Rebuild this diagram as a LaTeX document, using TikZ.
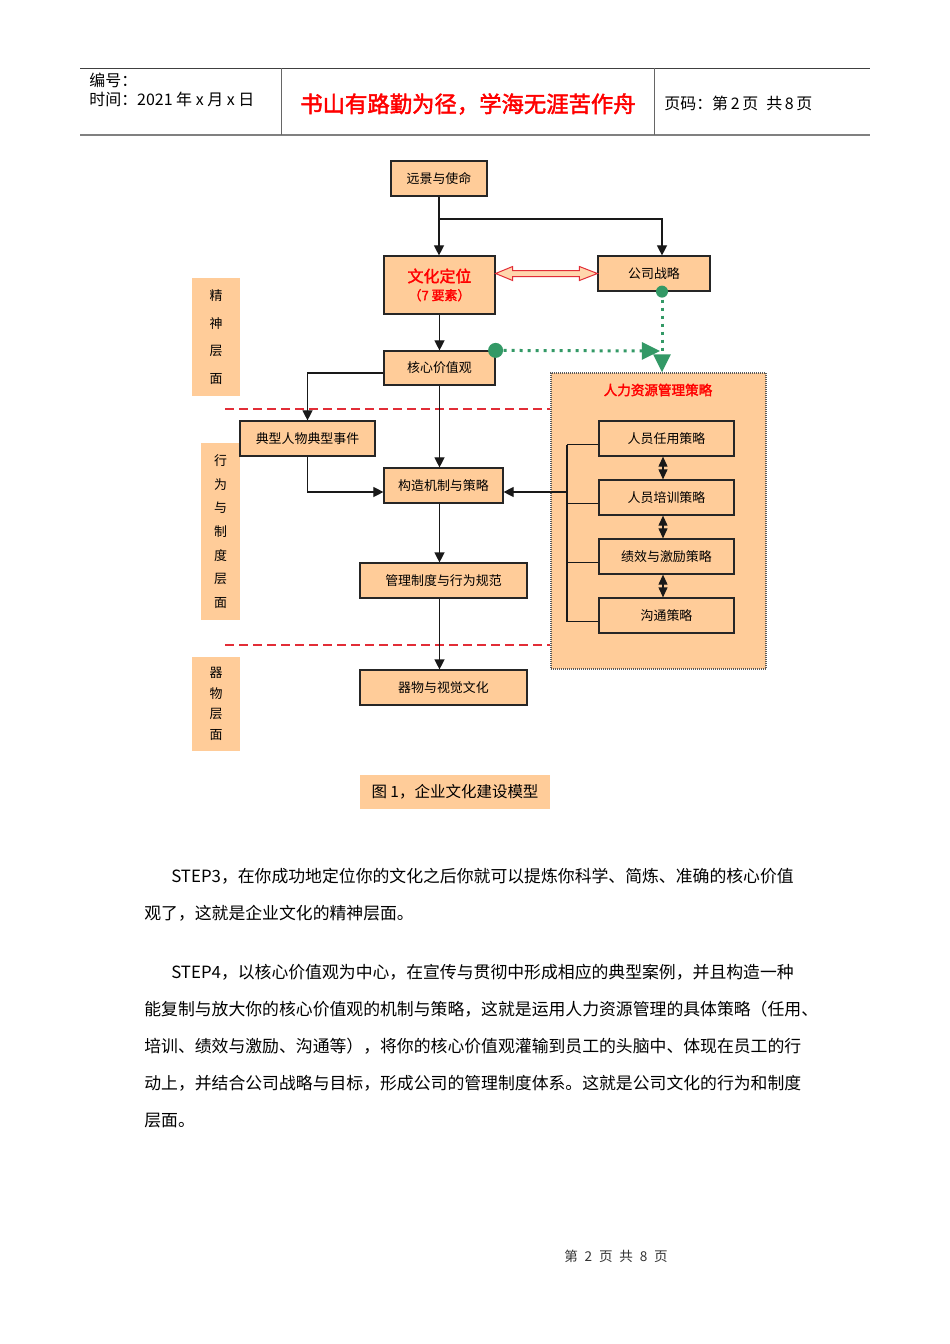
\documentclass[tikz,border=0pt]{standalone}
\usepackage{fontspec}
\setmainfont{Noto Sans CJK SC}[AutoFakeBold=2]
\usetikzlibrary{positioning,calc,arrows.meta}
\newlength\pxu \setlength\pxu{0.6263pt}
\definecolor{peach}{RGB}{255,204,153}
\definecolor{sgreen}{RGB}{51,153,102}
\definecolor{dred}{RGB}{226,45,55}
\tikzset{
  box/.style={draw=black!85, line width=1.2\pxu, fill=peach, inner sep=0pt, font=\fontsize{8.1}{10}\selectfont},
  sz/.style 2 args={minimum width=#1\pxu, minimum height=#2\pxu},
  side/.style={fill=peach, inner sep=0pt, align=center},
  ln/.style={line width=1.3\pxu, black!90},
  arr/.style={ln, -{Triangle[length=6.3pt,width=6.3pt]}},
  darr/.style={ln, {Triangle[length=6.3pt,width=5.6pt]}-{Triangle[length=6.3pt,width=5.6pt]}},
  gdot/.style={sgreen, line width=3\pxu, dash pattern=on 3\pxu off 5\pxu, -{Triangle[length=11.3pt,width=10.6pt]}},
  rdash/.style={dred, line width=1.1\pxu, dash pattern=on 9\pxu off 5\pxu},
  body/.style={anchor=west, inner sep=0pt, font=\fontsize{10.55}{13}\selectfont}
}
\begin{document}
\begin{tikzpicture}[x=1\pxu, y=-1\pxu]
\fill[white] (0,0) rectangle (950,1344);
\useasboundingbox (0,0) rectangle (950,1344);
\draw[line width=1\pxu, black!75] (80,68) -- (870,68);
\draw[line width=2\pxu, black!50] (80,135) -- (870,135);
\draw[line width=1\pxu, black!60] (281,68) -- (281,135) (654,68) -- (654,135);
\node[anchor=west, inner sep=0pt, font=\fontsize{10}{11}\selectfont] (h1) at (89,80) {编号：};
\node[anchor=west, inner sep=0pt, font=\fontsize{10}{11}\selectfont] (h2) at (89,99) {时间：2021 年 x 月 x 日};
\node[inner sep=0pt, text=red, font=\fontsize{14}{16}\selectfont\bfseries] (h3) at (468,104) {书山有路勤为径，学海无涯苦作舟};
\node[anchor=west, inner sep=0pt, font=\fontsize{10}{11}\selectfont] (h4) at (664,103) {页码：第\,2\,页\enspace 共\,8\,页};

\node[side, sz={48}{118}, font=\fontsize{8.1}{17.2}\selectfont] (l1) at (216,337) {精\\神\\层\\面};
\node[side, sz={39}{177}, font=\fontsize{8.1}{14.8}\selectfont] (l2) at (220.5,531.5) {行\\为\\与\\制\\度\\层\\面};
\node[side, sz={48}{94}, font=\fontsize{8.1}{12.8}\selectfont] (l3) at (216,704) {器\\物\\层\\面};

\node[box, sz={215}{296}, draw=black!65, dash pattern=on 1\pxu off 1\pxu] (hr) at (658.5,521) {};
\node[inner sep=0pt, text=red, font=\fontsize{8.5}{10}\selectfont\bfseries] (hrt) at (658,390) {人力资源管理策略};
\node[box, sz={135}{35}] (r1) at (666.5,438.5) {人员任用策略};
\node[box, sz={135}{35}] (r2) at (666.5,497.5) {人员培训策略};
\node[box, sz={135}{35}] (r3) at (666.5,556.5) {绩效与激励策略};
\node[box, sz={135}{35}] (r4) at (666.5,615.5) {沟通策略};

\node[box, sz={96}{35}] (yj) at (439,178.5) {远景与使命};
\node[box, sz={111}{58}, align=center, text=red] (wh) at (439.5,285) {{\fontsize{10}{12}\selectfont\bfseries 文化定位}\\[2\pxu]{\bfseries （7 要素）}};
\node[box, sz={112}{35}] (zl) at (654,273.5) {公司战略};
\node[box, sz={111}{34}] (hx) at (439.5,368) {核心价值观};
\node[box, sz={135}{35}] (dx) at (307.5,438.5) {典型人物典型事件};
\node[box, sz={119}{35}] (gz) at (443.5,485.5) {构造机制与策略};
\node[box, sz={167}{35}] (gl) at (443.5,580.5) {管理制度与行为规范};
\node[box, sz={167}{35}] (qw) at (443.5,687.5) {器物与视觉文化};
\node[side, sz={190}{34}, font=\fontsize{9.7}{11}\selectfont] (cap) at (455,792) {图 1，企业文化建设模型};

\coordinate (j1) at (439,219); \coordinate (br) at (567,492); \coordinate (g1) at (660,351);
\coordinate (d1) at (225,409); \coordinate (d2) at (225,645);
\draw[rdash] (d1) -- (d1 -| hr.west); \draw[rdash] (d2) -- (d2 -| hr.west);
\draw[arr] (yj.south) -- (yj.south |- wh.north);
\draw[arr] (j1) -| ([xshift=8\pxu]zl.north);
\draw[arr] (wh) -- (hx);
\draw[arr] ([yshift=-5\pxu]hx.west) -| (dx);
\draw[arr] (hx.south) -- (hx.south |- gz.north);
\draw[arr] (dx.south) |- ([yshift=-6.5\pxu]gz.west);
\draw[arr] (br) -- (br -| gz.east);
\draw[arr] (gz.south -| hx.south) -- (hx.south |- gl.north);
\draw[arr] (gl.south -| hx.south) -- (hx.south |- qw.north);
\draw[ln] ([yshift=-6\pxu]r1.west -| br) -- ([yshift=-6\pxu]r4.west -| br);
\foreach \i in {1,...,4} \draw[ln] ([yshift=-6\pxu]r\i.west) -- ([yshift=-6\pxu]r\i.west -| br);
\foreach \i/\j in {1/2,2/3,3/4} \draw[darr] ([xshift=-3.5\pxu]r\i.south) -- ([xshift=-3.5\pxu]r\j.north);
\draw[dred, line width=1\pxu, fill=peach!80] (wh.east |- zl.west) -- ++(17,-7) -- ++(0,4) -- ($(zl.west)+(-18,-3)$) -- ++(0,-4) -- (zl.west) -- ++(-18,7) -- ++(0,-4) -- ($(wh.east |- zl.west)+(17,3)$) -- ++(0,4) -- cycle;
\draw[gdot] (hx.north east) -- (g1);
\draw[gdot] ([xshift=8\pxu]zl.south) -- ([xshift=8\pxu]zl.south |- hr.north);
\fill[sgreen] (hx.north east) circle (7.5\pxu) ([xshift=8\pxu]zl.south) circle (6\pxu);

\node[body] (t1) at (171,876) {STEP3，在你成功地定位你的文化之后你就可以提炼你科学、简炼、准确的核心价值};
\node[body] (t2) at (144,913) {观了，这就是企业文化的精神层面。};
\node[body] (t3) at (171,972) {STEP4，以核心价值观为中心，在宣传与贯彻中形成相应的典型案例，并且构造一种};
\node[body] (t4) at (144,1009) {能复制与放大你的核心价值观的机制与策略，这就是运用人力资源管理的具体策略（任用、};
\node[body] (t5) at (144,1046) {培训、绩效与激励、沟通等），将你的核心价值观灌输到员工的头脑中、体现在员工的行};
\node[body] (t6) at (144,1083) {动上，并结合公司战略与目标，形成公司的管理制度体系。这就是公司文化的行为和制度};
\node[body] (t7) at (144,1121) {层面。};
\node[inner sep=0pt, text=black!80, font=\fontsize{8.5}{10}\selectfont] (ft) at (616,1256) {第\enspace 2\enspace 页\enspace 共\enspace 8\enspace 页};
\end{tikzpicture}
\end{document}
